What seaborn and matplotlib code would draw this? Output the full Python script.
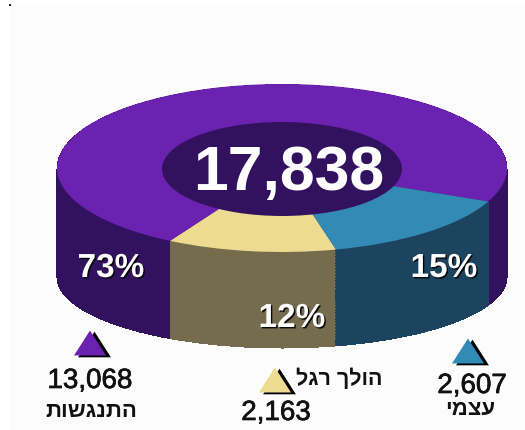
import matplotlib
matplotlib.use("Agg")
import matplotlib.pyplot as plt
import matplotlib.patheffects as pe
from matplotlib.patches import Rectangle
from matplotlib.path import Path
from matplotlib.transforms import Affine2D
import pandas as pd
import seaborn as sns

# Data
labels = ["התנגשות", "הולך רגל", "עצמי"]
counts = [13068, 2163, 2607]
count_text = ["13,068", "2,163", "2,607"]
shares = ["73%", "12%", "15%"]
total_text = "17,838"

top_colors = ["#6b22b0", "#ecdb90", "#338ab5"]
wall_colors = ["#32125f", "#756b4d", "#1c445e"]
hole_color = "#32125f"

sns.set_theme(style="white")
plt.rcParams["font.family"] = ["Liberation Sans", "DejaVu Sans"]

fig = plt.figure(figsize=(5.25, 4.3), dpi=100, facecolor="white")
fig.add_artist(Rectangle((9 / 525, 0), 1, 1 - 5 / 430, transform=fig.transFigure,
                         color="#fcfcfc", linewidth=0, zorder=-1))

# the pie lives in squashed axes: radius 1 is 225px wide and 84px high
ax = fig.add_axes([0, 0, 1, 1])
cx, cy = 282, 168
rx, ry = 225, 84
start = -23.5


def place(wedges, k, drop):
    # squeeze a pie vertically by k and move it down by drop pixels
    for w in wedges:
        w.set_transform(Affine2D().scale(1, k).translate(0, -drop / ry) + ax.transData)


# side wall: stack of pies, the bottom rim is a bit flatter than the top
n_layers = 160
for i in range(n_layers, 0, -1):
    t = i / n_layers
    wedges, _ = ax.pie(counts, colors=wall_colors, startangle=start,
                       wedgeprops={"linewidth": 0, "antialiased": False})
    place(wedges, 1 - t * 13 / 84, t * 109)

ax.pie(counts, colors=top_colors, startangle=start, wedgeprops={"linewidth": 0})
hole, _ = ax.pie([1], colors=[hole_color], radius=120 / 225, wedgeprops={"linewidth": 0})
place(hole, 47 / 44.8, 1)
ax.set_aspect("auto")
ax.set_xlim(-cx / rx, (525 - cx) / rx)
ax.set_ylim((cy - 430) / ry, cy / ry)

# overlay in picture coordinates for the labels and triangles
ov = fig.add_axes([0, 0, 1, 1])
ov.patch.set_alpha(0)

shadow = [pe.withSimplePatchShadow(offset=(1, -1), shadow_rgbFace="#000000", alpha=0.9)]
heavy = [pe.withStroke(linewidth=0.5, foreground="#111111")]

ov.text(289, 190, total_text, color="white", fontsize=45, fontweight="bold",
        ha="center", va="baseline")
ov.text(111, 277, shares[0], color="white", fontsize=24, fontweight="bold",
        ha="center", va="baseline", path_effects=shadow)
ov.text(292, 327, shares[1], color="white", fontsize=24, fontweight="bold",
        ha="center", va="baseline", path_effects=shadow)
ov.text(444, 277, shares[2], color="white", fontsize=24, fontweight="bold",
        ha="center", va="baseline", path_effects=shadow)

# legend triangles, a black one behind each coloured one
tri_marker = Path([(-1, -0.78), (1, -0.78), (0, 0.78), (-1, -0.78)])
tri = pd.DataFrame({"x": [90, 275, 468], "y": [343, 380, 351]})
sns.scatterplot(x=tri["x"] + 4, y=tri["y"] + 1, marker=tri_marker, s=560, color="black",
                linewidth=0, ax=ov, legend=False)
sns.scatterplot(data=tri, x="x", y="y", hue="x", palette=top_colors, marker=tri_marker, s=530,
                linewidth=0, ax=ov, legend=False)
ov.scatter([10], [5], marker="s", s=3, color="#222222", linewidth=0)
ov.set_xlim(0, 525)
ov.set_ylim(430, 0)
ov.axis("off")


def rtl(s):
    # matplotlib lays glyphs out left to right
    return s[::-1]


ov.text(90, 388, count_text[0], color="#111111", fontsize=20, ha="center", va="baseline",
        path_effects=heavy)
ov.text(276, 420, count_text[1], color="#111111", fontsize=20, ha="center", va="baseline",
        path_effects=heavy)
ov.text(472, 393, count_text[2], color="#111111", fontsize=20, ha="center", va="baseline",
        path_effects=heavy)
ov.text(91, 417, rtl(labels[0]), color="#111111", fontsize=16, fontweight="bold",
        ha="center", va="baseline")
ov.text(339, 385, rtl(labels[1]), color="#111111", fontsize=15.5, fontweight="bold",
        ha="center", va="baseline")
ov.text(470, 415, rtl(labels[2]), color="#111111", fontsize=16, fontweight="bold",
        ha="center", va="baseline")

fig.savefig("out.png", dpi=100, facecolor=fig.get_facecolor())
